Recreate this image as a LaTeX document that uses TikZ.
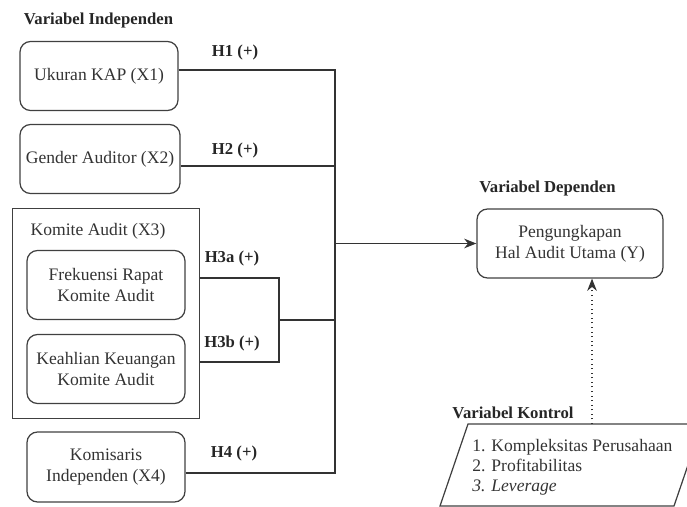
\documentclass[tikz,border=0pt]{standalone}
\usepackage{fontspec}
\setmainfont{Liberation Serif}
\usetikzlibrary{arrows.meta, fit, positioning}

\begin{document}
\begin{tikzpicture}[
    var/.style={draw=black!75, rounded corners=6pt, line width=.7pt, align=center, text=black!80,
                minimum width=3.16cm, minimum height=1.38cm},
    head/.style={font=\bfseries\fontsize{9.5}{11}\selectfont, text=black!85},
    link/.style={draw=black!80, line width=.6pt},
  ]
  \useasboundingbox (0,0) rectangle (13.74,-10.14);

  % variabel independen
  \node[head] at (1.97,-0.4) (indep) {Variabel Independen};
  \node[var] at (1.98,-1.52) (X1) {Ukuran KAP (X1)};
  \node[var, minimum width=3.2cm] at (2.0,-3.18) (X2) {Gender Auditor (X2)};
  \node[text=black!80, inner sep=0] at (1.96,-4.62) (X3lbl) {Komite Audit (X3)};
  \node[var] at (2.12,-5.7) (X3a) {Frekuensi Rapat\\Komite Audit};
  \node[var] at (2.12,-7.38) (X3b) {Keahlian Keuangan\\Komite Audit};
  \node[draw=black!75, line width=.7pt, inner sep=.28cm, fit=(X3lbl) (X3a) (X3b)] (X3) {};
  \node[var, minimum height=1.4cm] at (2.12,-9.34) (X4) {Komisaris\\Independen (X4)};

  % variabel dependen
  \node[head] at (10.95,-3.76) (dep) {Variabel Dependen};
  \node[var, minimum width=3.72cm] at (11.4,-4.87) (Y) {Pengungkapan\\Hal Audit Utama (Y)};

  % variabel kontrol
  \node[head] at (10.26,-8.26) (kontrol) {Variabel Kontrol};
  \coordinate (P1) at (8.8,-10.12);
  \coordinate (P2) at (9.36,-8.48);
  \coordinate (P3) at (14.04,-8.48);
  \coordinate (P4) at (13.48,-10.12);
  \draw[draw=black!75, line width=.7pt] (P1) -- (P2) -- (P3) -- (P4) -- cycle;
  \node[anchor=west, align=left, inner sep=0, text=black!80,
        font=\fontsize{10}{11.4}\selectfont] at (9.44,-9.34) (ctrl)
        {1. Kompleksitas Perusahaan\\2. Profitabilitas\\\textit{3. Leverage}};

  % hipotesis
  \node[head] at (4.7,-1.04) (H1) {H1 (+)};
  \node[head] at (4.7,-3.0) (H2) {H2 (+)};
  \node[head] at (4.64,-5.16) (H3a) {H3a (+)};
  \node[head] at (4.64,-6.86) (H3b) {H3b (+)};
  \node[head] at (4.68,-9.06) (H4) {H4 (+)};

  % garis
  \coordinate (bus) at (6.7,-4.87);
  \coordinate (brk) at (5.58,-6.4);
  \coordinate (l1) at ([yshift=.12cm]X1.east);
  \coordinate (l2) at ([yshift=-.14cm]X2.east);
  \coordinate (l3a) at ([yshift=.14cm]X3a.east);
  \coordinate (l3b) at ([yshift=.14cm]X3b.east);
  \coordinate (l4) at ([yshift=-.12cm]X4.east);
  \draw[link] (l1) -| (bus);
  \draw[link] (l4) -| (bus);
  \draw[link] (l2) -- (l2 -| bus);
  \draw[link] (l3a -| X3.east) -| (brk) |- (l3b -| X3.east);
  \draw[link] (brk) -- (brk -| bus);
  \draw[link, -{Stealth[length=7pt, width=5.5pt]}] (bus) -- (Y.west);

  \coordinate (ctl) at (11.84,-8.48);
  \draw[link, dotted, -{Stealth[length=7pt, width=5.5pt]}] (ctl) -- (ctl |- Y.south);
\end{tikzpicture}
\end{document}
